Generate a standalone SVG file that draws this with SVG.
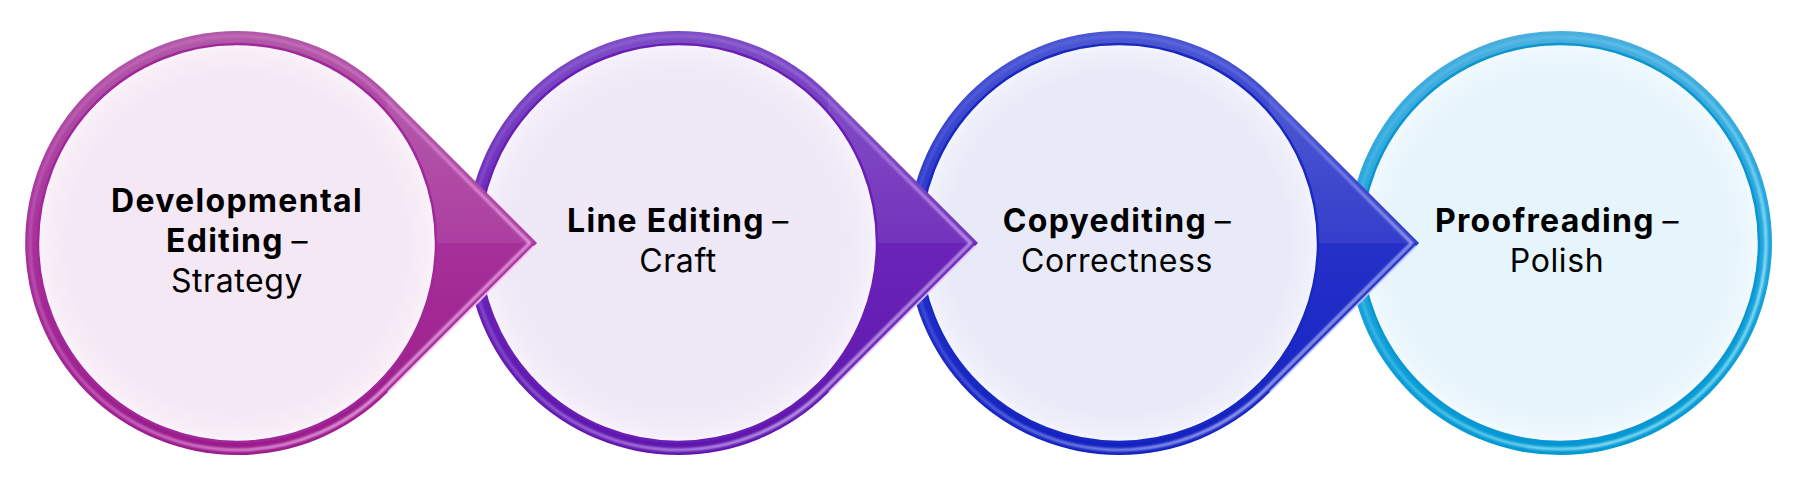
<svg xmlns="http://www.w3.org/2000/svg" width="1798" height="484" viewBox="0 0 1798 484">
<defs>
<style>
.t{font-family:Inter,"Noto Sans","Liberation Sans",sans-serif;font-size:32px;fill:#000;text-anchor:middle;letter-spacing:0.6px}
.b{font-weight:700;letter-spacing:1.3px}
.hl{fill:none;stroke-width:3;opacity:.75}
.seam{fill:#fff;opacity:.07}
</style>
<filter id="soft" x="-10%" y="-10%" width="120%" height="120%"><feGaussianBlur stdDeviation="1.2"/></filter>
<linearGradient id="r1" x1="0" y1="0" x2="0" y2="1"><stop offset="0" stop-color="#B25AA8"/><stop offset="0.5" stop-color="#A6309A"/><stop offset="1" stop-color="#9A1A8A"/></linearGradient>
<linearGradient id="r2" x1="0" y1="0" x2="0" y2="1"><stop offset="0" stop-color="#7D4EC6"/><stop offset="0.5" stop-color="#6A24B8"/><stop offset="1" stop-color="#5E16AE"/></linearGradient>
<linearGradient id="r3" x1="0" y1="0" x2="0" y2="1"><stop offset="0" stop-color="#4C58D2"/><stop offset="0.5" stop-color="#2530C8"/><stop offset="1" stop-color="#1222C0"/></linearGradient>
<linearGradient id="r4" x1="0" y1="0" x2="0" y2="1"><stop offset="0" stop-color="#4AAEDE"/><stop offset="0.5" stop-color="#1EA4DC"/><stop offset="1" stop-color="#0298D3"/></linearGradient>
<radialGradient id="f1" cx="0.5" cy="0.5" r="0.5"><stop offset="0.85" stop-color="#F4E8F4"/><stop offset="0.97" stop-color="#F8EFF8"/><stop offset="1" stop-color="#FCF6FC"/></radialGradient>
<radialGradient id="f2" cx="0.5" cy="0.5" r="0.5"><stop offset="0.85" stop-color="#EFE8F7"/><stop offset="0.97" stop-color="#F4EFFA"/><stop offset="1" stop-color="#FAF7FD"/></radialGradient>
<radialGradient id="f3" cx="0.5" cy="0.5" r="0.5"><stop offset="0.85" stop-color="#E8EAF8"/><stop offset="0.97" stop-color="#EFF0FA"/><stop offset="1" stop-color="#F7F8FD"/></radialGradient>
<radialGradient id="f4" cx="0.5" cy="0.5" r="0.5"><stop offset="0.85" stop-color="#E6F4FC"/><stop offset="0.97" stop-color="#EEF8FD"/><stop offset="1" stop-color="#F6FBFE"/></radialGradient>
<linearGradient id="h1" x1="0" y1="0" x2="1" y2="1"><stop offset="0" stop-color="#F5A0EE" stop-opacity="0.2"/><stop offset="0.45" stop-color="#F7A8F2" stop-opacity="0.5"/><stop offset="0.8" stop-color="#FFD0FC" stop-opacity="1"/><stop offset="1" stop-color="#F090EA" stop-opacity="0.4"/></linearGradient>
<linearGradient id="h2" x1="0" y1="0" x2="1" y2="1"><stop offset="0" stop-color="#C8A0F8" stop-opacity="0.2"/><stop offset="0.45" stop-color="#C8A0F8" stop-opacity="0.5"/><stop offset="0.8" stop-color="#E8D4FF" stop-opacity="1"/><stop offset="1" stop-color="#C090F5" stop-opacity="0.4"/></linearGradient>
<linearGradient id="h3" x1="0" y1="0" x2="1" y2="1"><stop offset="0" stop-color="#8C98FF" stop-opacity="0.2"/><stop offset="0.45" stop-color="#8C98FF" stop-opacity="0.5"/><stop offset="0.8" stop-color="#D4DAFF" stop-opacity="1"/><stop offset="1" stop-color="#8090FF" stop-opacity="0.4"/></linearGradient>
<linearGradient id="h4" x1="0" y1="0" x2="1" y2="1"><stop offset="0" stop-color="#8AE0FF" stop-opacity="0.2"/><stop offset="0.45" stop-color="#8AE8FF" stop-opacity="0.5"/><stop offset="0.8" stop-color="#C8FAFF" stop-opacity="1"/><stop offset="1" stop-color="#80EEFF" stop-opacity="0.5"/></linearGradient>
</defs>

<g id="connectors"></g>

<g id="node4">
<circle cx="1560" cy="243" r="212" fill="url(#r4)"/>
<circle cx="1560" cy="243" r="206" class="hl" stroke="url(#h4)" filter="url(#soft)"/>
<circle cx="1560" cy="243" r="199" fill="url(#f4)" stroke="#0A96D0" stroke-width="2.5"/>
<text class="t" x="1557" y="232"><tspan class="b">Proofreading</tspan><tspan dx="-2"> –</tspan></text>
<text class="t" x="1557" y="272">Polish</text>
</g>

<g id="node3">
<path d="M1269,93 A212,212 0 1,0 1269,393 L1419,243 Z" fill="url(#r3)"/>
<path d="M1269,93 L1419,243 L1269,243 Z" class="seam"/>
<path d="M1265.4,96.6 A207,207 0 1,0 1265.4,389.4 L1411.7,243 Z" class="hl" stroke="url(#h3)" filter="url(#soft)"/>
<line x1="1416" y1="246" x2="1270" y2="392" stroke="#C8D0FF" stroke-width="2" opacity="0.8"/>
<circle cx="1119" cy="243" r="199" fill="url(#f3)" stroke="#1828C0" stroke-width="2.5"/>
<text class="t" x="1117" y="232"><tspan class="b">Copyediting</tspan><tspan dx="-2"> –</tspan></text>
<text class="t" x="1117" y="272">Correctness</text>
</g>

<g id="node2">
<path d="M828,93 A212,212 0 1,0 828,393 L978,243 Z" fill="url(#r2)"/>
<path d="M828,93 L978,243 L828,243 Z" class="seam"/>
<path d="M824.4,96.6 A207,207 0 1,0 824.4,389.4 L970.7,243 Z" class="hl" stroke="url(#h2)" filter="url(#soft)"/>
<line x1="975" y1="246" x2="829" y2="392" stroke="#E8D0FF" stroke-width="2" opacity="0.8"/>
<circle cx="678" cy="243" r="199" fill="url(#f2)" stroke="#6A1EB5" stroke-width="2.5"/>
<text class="t" x="678" y="232"><tspan class="b">Line Editing</tspan><tspan dx="-2"> –</tspan></text>
<text class="t" x="678" y="272">Craft</text>
</g>

<g id="node1">
<path d="M387,93 A212,212 0 1,0 387,393 L537,243 Z" fill="url(#r1)"/>
<path d="M387,93 L537,243 L387,243 Z" class="seam"/>
<path d="M383.4,96.6 A207,207 0 1,0 383.4,389.4 L529.7,243 Z" class="hl" stroke="url(#h1)" filter="url(#soft)"/>
<line x1="534" y1="246" x2="388" y2="392" stroke="#FFD0FA" stroke-width="2" opacity="0.8"/>
<circle cx="237" cy="243" r="199" fill="url(#f1)" stroke="#A0289A" stroke-width="2.5"/>
<text class="t b" x="237" y="212">Developmental</text>
<text class="t" x="237" y="252"><tspan class="b">Editing</tspan><tspan dx="-2"> –</tspan></text>
<text class="t" x="237" y="292">Strategy</text>
</g>
</svg>
